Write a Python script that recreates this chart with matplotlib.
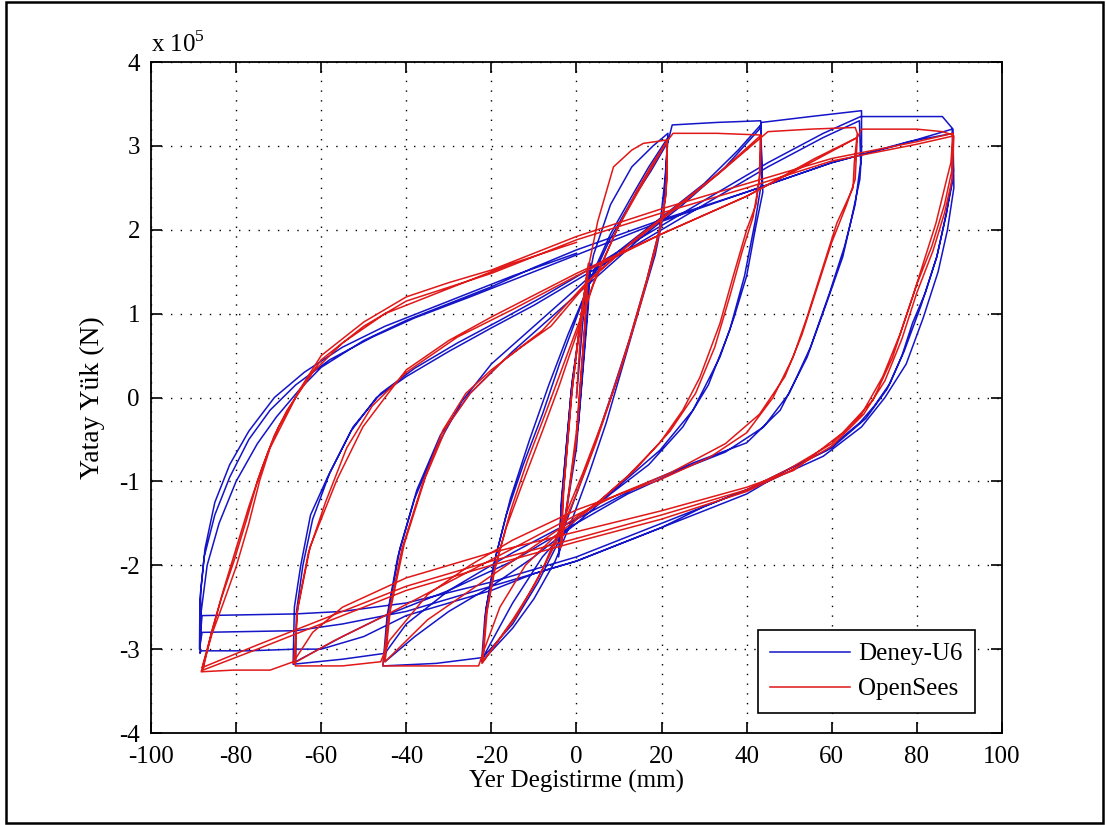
import numpy as np
import matplotlib
matplotlib.use("Agg")
import matplotlib.pyplot as plt
from matplotlib.patches import Rectangle
from matplotlib.ticker import FuncFormatter

plt.rcParams['font.family'] = ['Liberation Serif', 'DejaVu Serif']
plt.rcParams['mathtext.fontset'] = 'custom'
plt.rcParams['mathtext.rm'] = 'Liberation Serif'
plt.rcParams['axes.unicode_minus'] = False

# ============================
# data: (yer degistirme [mm], yatay yuk [x 1e5 N])
# ============================

# --- Deney-U6 (test)
deney_elastik = [(0, 0), (1.5, 0.9), (3, 1.5), (2.5, 1.0), (0, -0.6), (-2.5, -1.4), (-4, -1.8),
                 (-3.5, -1.2), (-1, 0.2), (1.5, 1.1), (3.2, 1.6), (2.8, 1.1), (0.5, -0.3),
                 (-2, -1.2), (-4.2, -1.9), (-3.6, -1.3), (-1.2, 0.1), (1, 0.9),
                 (4, 1.7), (8, 2.3), (13, 2.75), (18, 3.0), (21.5, 3.15)]

deney_22 = [(21.5, 3.15), (21, 2.7), (20.5, 2.2), (18.5, 1.7), (15, 1.1), (11, 0.4), (7, -0.3),
            (3, -0.9), (-1, -1.45), (-5, -1.95), (-10, -2.4), (-15, -2.75), (-22.3, -3.15),
            (-21.5, -2.6), (-19.5, -2.0), (-16.5, -1.4), (-12.5, -0.8), (-8, -0.2), (-4, 0.4),
            (0, 0.95), (4, 1.5), (8, 1.95), (13, 2.4), (17, 2.75), (21.5, 3.1),
            (20.8, 2.6), (19.5, 2.0), (16.5, 1.4), (12.5, 0.7), (8, 0.0), (4, -0.6), (0, -1.15),
            (-4, -1.7), (-9, -2.2), (-15, -2.7), (-22, -3.1),
            (-21.2, -2.5), (-19, -1.9), (-15.5, -1.2), (-11, -0.5), (-6.5, 0.15), (-2, 0.75),
            (3, 1.35), (8, 1.9), (13, 2.35), (17.5, 2.7), (21.5, 3.05),
            (22.5, 3.25), (33, 3.28), (43.3, 3.3)]

deney_44 = [(43.3, 3.3), (43.5, 2.9), (43.8, 2.45), (42, 2.0), (40, 1.45), (37, 0.95), (33.7, 0.48),
            (27.4, -0.15), (19.6, -0.63), (10, -1.05), (0, -1.45), (-8, -1.9), (-15, -2.45),
            (-22, -3.1), (-33, -3.17), (-45.5, -3.2),
            (-44.5, -2.6), (-42, -1.9), (-38, -1.2), (-33, -0.6), (-27, -0.05), (-20, 0.4),
            (-10, 0.85), (0, 1.3), (10, 1.75), (20, 2.15), (30, 2.55), (38, 2.95), (43.3, 3.25),
            (43.6, 2.6), (42, 2.1), (39.5, 1.45), (36, 0.8), (31, 0.15), (25, -0.35), (17, -0.8),
            (8, -1.15), (0, -1.5), (-10, -1.9), (-20, -2.25), (-30, -2.55), (-38, -2.85), (-45, -3.15),
            (-44, -2.5), (-41.5, -1.8), (-37.5, -1.1), (-32, -0.45), (-25, 0.05), (-15, 0.55),
            (-5, 1.0), (5, 1.45), (15, 1.9), (25, 2.3), (35, 2.75), (43, 3.2),
            (43.5, 3.28), (55, 3.35), (67, 3.42)]

deney_66 = [(67, 3.42), (67, 2.9), (66.6, 2.6), (64.5, 2.1), (62.6, 1.68), (58.8, 1.13), (54.2, 0.48),
            (47.9, -0.15), (40, -0.54), (27.4, -0.78), (15, -1.05), (0, -1.45), (-15, -1.85),
            (-30, -2.3), (-40, -2.7), (-45, -3.05), (-55, -3.12), (-66.6, -3.18),
            (-66.3, -2.5), (-64.8, -2.0), (-62.5, -1.4), (-58.5, -0.95), (-53, -0.4), (-47, 0.0),
            (-40, 0.25), (-30, 0.55), (-20, 0.83), (-10, 1.1), (0, 1.4), (15, 1.85), (30, 2.3),
            (45, 2.75), (58, 3.1), (66.5, 3.3),
            (66.8, 2.8), (65.5, 2.3), (63, 1.8), (59.5, 1.25), (55, 0.6), (50, 0.05), (44, -0.35),
            (35, -0.65), (25, -0.85), (12, -1.15), (0, -1.5), (-15, -1.95), (-30, -2.3), (-45, -2.6),
            (-55, -2.85), (-66, -3.15),
            (-65.8, -2.55), (-64.3, -2.0), (-62, -1.45), (-58, -0.9), (-52.5, -0.35), (-46, 0.05),
            (-38, 0.35), (-28, 0.65), (-18, 0.92), (-8, 1.2), (2, 1.5), (15, 1.9), (30, 2.35),
            (45, 2.8), (58, 3.15), (66.8, 3.35),
            (75, 3.35), (86, 3.35), (88.5, 3.2)]

deney_88 = [(88.5, 3.2), (88.5, 2.6), (86.5, 2.1), (84.7, 1.68), (82, 1.25), (79, 0.89), (76.5, 0.5),
            (73.7, 0.17), (70, -0.1), (66.6, -0.3), (58.8, -0.63), (50, -0.85), (40, -1.1),
            (30, -1.3), (20, -1.55), (10, -1.75), (0, -1.95), (-10, -2.1), (-20, -2.3), (-30, -2.45),
            (-40, -2.6), (-50, -2.85), (-60, -3.0), (-66, -3.0), (-77, -3.02), (-88.2, -3.02),
            (-88.5, -3.05),
            (-88.2, -2.55), (-86.8, -2.0), (-84, -1.5), (-80, -1.0), (-75, -0.55), (-70.5, -0.23),
            (-65, 0.1), (-60, 0.36), (-50, 0.68), (-40, 0.92), (-30, 1.12), (-20, 1.32), (-10, 1.55),
            (0, 1.76), (20, 2.12), (40, 2.45), (60, 2.8), (75, 3.0), (88.3, 3.2),
            (88.6, 2.7), (87, 2.2), (84.7, 1.68), (81, 1.1), (77, 0.55), (73, 0.1), (68, -0.25),
            (60, -0.6), (50, -0.85), (40, -1.15), (20, -1.55), (0, -1.95), (-20, -2.25), (-40, -2.55),
            (-55, -2.7), (-66, -2.78), (-88, -2.8), (-88.6, -3.0),
            (-88.5, -2.4), (-87.5, -1.9), (-85, -1.4), (-81.5, -0.95), (-77, -0.5), (-72, -0.15),
            (-66, 0.15), (-58, 0.45), (-48, 0.72), (-38, 0.95), (-25, 1.2), (-10, 1.5), (0, 1.7),
            (20, 2.1), (40, 2.45), (60, 2.8), (78, 3.05), (88.5, 3.15),
            (88.7, 2.5), (87.2, 2.0), (85, 1.5), (81.5, 0.95), (77.5, 0.4), (72.5, 0.0), (67, -0.35),
            (58, -0.7), (45, -1.0), (30, -1.3), (15, -1.6), (0, -1.9), (-20, -2.2), (-40, -2.45),
            (-55, -2.55), (-66, -2.58), (-88, -2.6), (-88.5, -2.9),
            (-88.3, -2.3), (-87.3, -1.8), (-85, -1.25), (-81.5, -0.8), (-77, -0.4), (-71, 0.0),
            (-64, 0.3), (-55, 0.6), (-45, 0.85), (-30, 1.15), (-15, 1.45), (0, 1.72)]

# --- OpenSees (model)
opensees_elastik = [(0, 0), (1, 0.8), (2.5, 1.5), (2, 0.9), (0, -0.4), (-2, -1.2), (-3.5, -1.75),
                    (-3, -1.1), (-1, 0.1), (1, 0.95), (2.8, 1.6), (2.2, 1.0), (0, -0.5),
                    (-2.2, -1.3), (-3.8, -1.8), (-3.2, -1.2), (-1.2, 0.0), (0.8, 0.9),
                    (3, 1.6), (5, 2.1), (8.7, 2.75), (13, 2.95), (15.7, 3.03), (21.2, 3.07)]

opensees_22 = [(21.2, 3.07), (21.2, 2.7), (21, 2.4), (19.5, 2.0), (16.5, 1.4), (12.5, 0.7),
               (8.5, 0.05), (4.5, -0.55), (0, -1.15), (-5, -1.75), (-10, -2.25), (-15, -2.65),
               (-22.2, -3.17),
               (-21.3, -2.6), (-19.5, -2.1), (-16.5, -1.55), (-12.5, -1.0), (-8, -0.4), (-4, 0.15),
               (0, 0.75), (4, 1.35), (9, 1.95), (14, 2.45), (18, 2.8), (21.2, 3.05),
               (21.3, 2.6), (20.5, 2.2), (18.5, 1.75), (15, 1.1), (10.5, 0.35), (6, -0.3),
               (1.5, -0.9), (-3, -1.45), (-8, -2.05), (-14, -2.6), (-22, -3.15),
               (-21, -2.55), (-19, -2.0), (-15.5, -1.35), (-11.5, -0.75), (-7, -0.15), (-3, 0.4),
               (1, 0.95), (5, 1.5), (10, 2.05), (15, 2.5), (21.2, 3.05),
               (22.7, 3.15), (33, 3.15), (43.3, 3.13)]

opensees_44 = [(43.4, 3.13), (43.2, 2.7), (42.2, 2.3), (40, 2.0), (36.8, 1.44), (33.7, 0.88),
               (29, 0.24), (25, -0.15), (19.6, -0.54), (11.8, -0.95), (4, -1.3), (-5, -1.65),
               (-12, -2.0), (-18, -2.5), (-22, -3.05), (-23, -3.2), (-38, -3.2), (-45.5, -3.2),
               (-44.2, -2.6), (-41, -1.8), (-36, -1.0), (-31.4, -0.39), (-26, 0.05), (-20, 0.33),
               (-13, 0.6), (-6, 0.85), (4, 1.45), (14, 1.9), (24, 2.3), (34, 2.7), (43.2, 3.12),
               (43, 2.6), (41.5, 2.15), (39, 1.75), (36, 1.2), (32.5, 0.6), (28, 0.05), (22, -0.4),
               (14, -0.85), (5, -1.25), (-5, -1.6), (-15, -1.95), (-25, -2.3), (-35, -2.65),
               (-45, -3.15),
               (-43.8, -2.55), (-40.5, -1.75), (-35.5, -0.95), (-30.5, -0.35), (-25, 0.05),
               (-17, 0.45), (-8, 0.8), (2, 1.35), (12, 1.8), (22, 2.2), (33, 2.65), (43.4, 3.1),
               (45, 3.17), (55, 3.2), (65.5, 3.22), (66, 3.15)]

opensees_66 = [(66, 3.15), (65.3, 2.8), (65, 2.5), (61.2, 2.08), (57.2, 1.44), (54.2, 0.96),
               (50.9, 0.48), (46.2, 0.0), (40, -0.42), (31.4, -0.71), (19.6, -0.98), (0, -1.34),
               (-15, -1.7), (-25, -2.0), (-35, -2.35), (-44, -2.9), (-46, -3.15), (-55, -3.2),
               (-66.1, -3.2),
               (-65.7, -2.57), (-62.6, -1.78), (-56.3, -0.98), (-50.2, -0.35), (-45, 0.0),
               (-40, 0.33), (-30, 0.68), (-20, 0.96), (-10, 1.22), (0, 1.48), (20, 1.95),
               (40, 2.4), (55, 2.8), (66, 3.1),
               (65.5, 2.6), (63.5, 2.3), (60, 1.85), (56.5, 1.3), (53, 0.75), (49, 0.25), (43, -0.2),
               (35, -0.55), (22, -0.9), (10, -1.15), (0, -1.4), (-15, -1.8), (-30, -2.2),
               (-45, -2.6), (-57, -2.9), (-66.5, -3.17),
               (-65.5, -2.5), (-63, -1.85), (-59, -1.25), (-54, -0.6), (-48, -0.1), (-40, 0.3),
               (-28, 0.72), (-15, 1.05), (0, 1.45), (20, 1.95), (40, 2.4), (56, 2.85), (66, 3.1),
               (67, 3.2), (80, 3.2), (86, 3.17), (88.5, 3.13)]

opensees_88 = [(88.5, 3.15), (88, 2.8), (87, 2.6), (84.5, 2.08), (79, 1.2), (74.3, 0.48),
               (69.7, -0.03), (62.6, -0.42), (51, -0.87), (40, -1.07), (20, -1.35), (0, -1.6),
               (-20, -1.85), (-40, -2.15), (-55, -2.5), (-62, -2.8), (-66.5, -3.15), (-72, -3.25),
               (-80.7, -3.25), (-88.2, -3.27),
               (-85.6, -2.81), (-83, -2.45), (-80, -2.02), (-77, -1.5), (-74.4, -0.98), (-72, -0.6),
               (-69, -0.3), (-65, 0.1), (-60, 0.5), (-50, 0.9), (-40, 1.2), (-30, 1.37), (-20, 1.52),
               (-10, 1.72), (0, 1.92), (20, 2.25), (40, 2.55), (60, 2.85), (80, 3.05), (88.5, 3.15),
               (88.2, 2.7), (86.5, 2.3), (83.5, 1.8), (80, 1.35), (76, 0.75), (72, 0.25), (67, -0.2),
               (60, -0.55), (50, -0.85), (40, -1.1), (20, -1.4), (0, -1.68), (-20, -1.95),
               (-40, -2.25), (-60, -2.65), (-75, -2.95), (-88, -3.22),
               (-86, -2.85), (-83.5, -2.4), (-80.5, -1.95), (-77.5, -1.45), (-75, -1.0),
               (-72.5, -0.65), (-70, -0.35), (-65.5, 0.05), (-60, 0.45), (-50, 0.85), (-40, 1.15),
               (-20, 1.48), (0, 1.88), (20, 2.2), (40, 2.5), (60, 2.82), (80, 3.02), (88.7, 3.12),
               (88.3, 2.6), (86.5, 2.2), (83.8, 1.75), (80, 1.25), (76.5, 0.7), (72.5, 0.2),
               (67.5, -0.2), (60, -0.58), (50, -0.88), (40, -1.12), (20, -1.45), (0, -1.72),
               (-20, -2.0), (-40, -2.3), (-60, -2.7), (-75, -3.0), (-87.8, -3.25),
               (-85.8, -2.8), (-83, -2.3), (-80, -1.8), (-77, -1.3), (-74, -0.85), (-71, -0.45),
               (-68, -0.15), (-62, 0.3), (-55, 0.65), (-45, 1.0), (-30, 1.3), (-15, 1.6), (0, 1.85)]

deney = np.array(deney_elastik + deney_22 + deney_44 + deney_66 + deney_88)
opensees = np.array(opensees_elastik + opensees_22 + opensees_44 + opensees_66 + opensees_88)

x_ticks = [-100, -80, -60, -40, -20, 0, 20, 40, 60, 80, 100]
y_ticks = [-4, -3, -2, -1, 0, 1, 2, 3, 4]

# ============================
# plot
# ============================
fig = plt.figure(figsize=(11.07, 8.25), dpi=100)
ax = fig.add_axes([0.1364, 0.1115, 0.7687, 0.8133])

ax.plot(deney[:, 0], deney[:, 1] * 1e5, color='#1414c8', lw=1.1, label='Deney-U6')
ax.plot(opensees[:, 0], opensees[:, 1] * 1e5, color='#e01818', lw=1.1, label='OpenSees')

ax.set_xlim(-100, 100)
ax.set_ylim(-4e5, 4e5)
ax.set_xticks(x_ticks)
ax.set_yticks([v * 1e5 for v in y_ticks])
ax.yaxis.set_major_formatter(FuncFormatter(lambda v, p: '%d' % round(v / 1e5)))

ax.grid(True, color='black', linestyle=(0, (1, 6)), linewidth=1.0)
ax.tick_params(direction='in', top=True, right=True, length=8, width=1.2,
               labelsize=18, colors='black')
ax.tick_params(axis='x', pad=9)
ax.tick_params(axis='y', pad=8)
for s in ax.spines.values():
    s.set_linewidth(1.3)

ax.set_xlabel('Yer Degistirme (mm)', fontsize=18, labelpad=2)
ax.set_ylabel('Yatay Yük (N)', fontsize=20, labelpad=10)
ax.text(0.0, 1.008, r'x 10$^5$', transform=ax.transAxes, fontsize=18,
        ha='left', va='bottom')

leg = ax.legend(loc='lower right', bbox_to_anchor=(0.968, 0.03), fontsize=18,
                frameon=True, fancybox=False, edgecolor='black', framealpha=1,
                handlelength=3.2, borderpad=0.5, labelspacing=0.5, handletextpad=0.3,
                borderaxespad=0)
leg.get_frame().set_linewidth(1.2)

fig.patches.append(Rectangle((0.005, 0.003), 0.991, 0.994, transform=fig.transFigure,
                             fill=False, edgecolor='black', linewidth=1.8))

fig.savefig('out.png', dpi=100)
